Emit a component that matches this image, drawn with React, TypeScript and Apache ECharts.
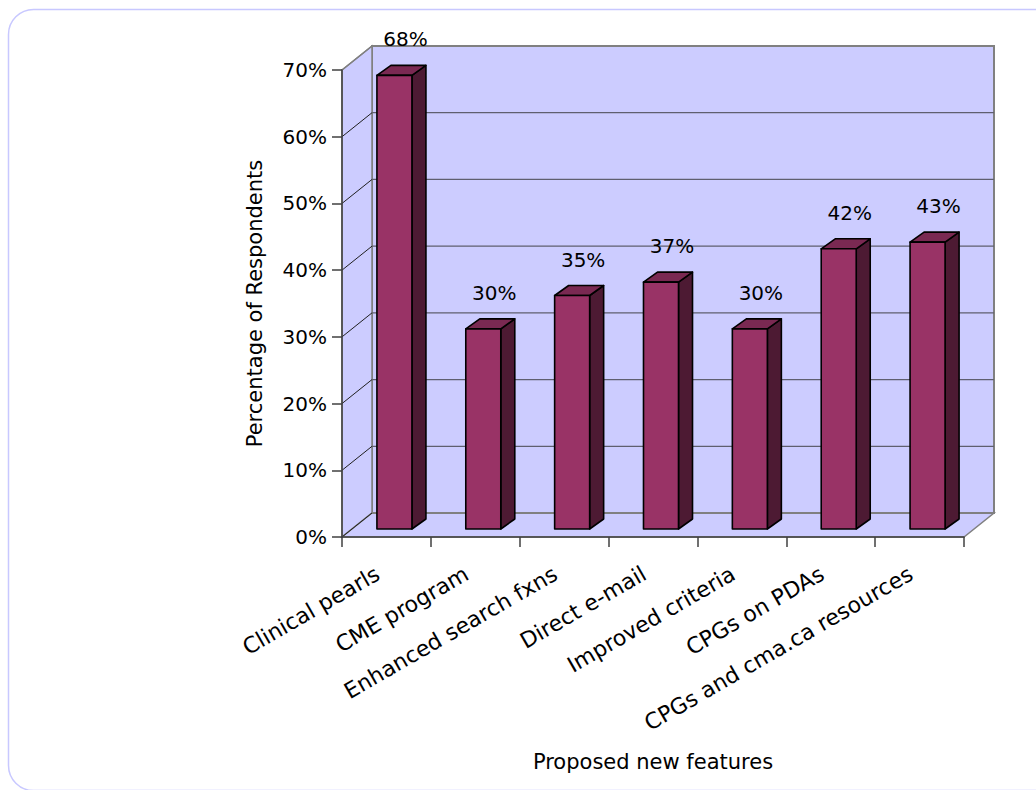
import React, { useEffect, useRef } from "react";
import * as echarts from "echarts";

const categories = [
  "Clinical pearls",
  "CME program",
  "Enhanced search fxns",
  "Direct e-mail",
  "Improved criteria",
  "CPGs on PDAs",
  "CPGs and cma.ca resources",
];
const values = [68, 30, 35, 37, 30, 42, 43];
const yTicks = [0, 10, 20, 30, 40, 50, 60, 70];
const yTitle = "Percentage of Respondents";
const xTitle = "Proposed new features";

const FONT = "'DejaVu Sans', sans-serif";
const WALL = "#ccccff";
const WALL_EDGE = "#808080";
const GRID_LINE = "#5f5f6f";
const BAR_FRONT = "#993366";
const BAR_TOP = "#7a2952";
const BAR_SIDE = "#4d1a33";
const DEPTH_X = 30;
const DEPTH_Y = -24;
const BAR_SHIFT_X = 8;
const BAR_SHIFT_Y = -8;
const BAR_DX = 14;
const BAR_DY = -10;

export default function App() {
  const ref = useRef<HTMLDivElement>(null);
  useEffect(() => {
    if (!ref.current) return;
    const chart = echarts.init(ref.current, undefined, { renderer: "svg" });

    const wallsRender = (params: any, api: any) => {
      const cs = params.coordSys;
      const x0 = cs.x, y0 = cs.y, w = cs.width, h = cs.height;
      const children: any[] = [];
      children.push({
        type: "rect",
        shape: { x: x0 + DEPTH_X, y: y0 + DEPTH_Y, width: w, height: h },
        style: { fill: WALL, stroke: WALL_EDGE, lineWidth: 2 },
      });
      children.push({
        type: "polygon",
        shape: {
          points: [
            [x0, y0],
            [x0 + DEPTH_X, y0 + DEPTH_Y],
            [x0 + DEPTH_X, y0 + h + DEPTH_Y],
            [x0, y0 + h],
          ],
        },
        style: { fill: WALL, stroke: WALL_EDGE, lineWidth: 1.5 },
      });
      children.push({
        type: "polygon",
        shape: {
          points: [
            [x0, y0 + h],
            [x0 + w, y0 + h],
            [x0 + w + DEPTH_X, y0 + h + DEPTH_Y],
            [x0 + DEPTH_X, y0 + h + DEPTH_Y],
          ],
        },
        style: { fill: WALL, stroke: WALL_EDGE, lineWidth: 1.5 },
      });
      yTicks.forEach((t) => {
        const yy = api.coord([0, t])[1];
        const edge = t === 0 || t === 70;
        children.push({
          type: "line",
          shape: { x1: x0 + DEPTH_X, y1: yy + DEPTH_Y, x2: x0 + w + DEPTH_X, y2: yy + DEPTH_Y },
          style: { stroke: edge ? WALL_EDGE : GRID_LINE, lineWidth: edge ? 2 : 1.2 },
        });
        children.push({
          type: "line",
          shape: { x1: x0, y1: yy, x2: x0 + DEPTH_X, y2: yy + DEPTH_Y },
          style: { stroke: t === 70 ? WALL_EDGE : "#202020", lineWidth: t === 70 ? 1.5 : 1 },
        });
      });
      return { type: "group", children };
    };

    const barsRender = (params: any, api: any) => {
      const i = api.value(0);
      const v = api.value(1);
      const top = api.coord([i, v]);
      const base = api.coord([i, 0]);
      const bw = api.size([1, 0])[0] * 0.394;
      const lx = top[0] + BAR_SHIFT_X - bw / 2;
      const rx = lx + bw;
      const ty = top[1] + BAR_SHIFT_Y;
      const by = base[1] + BAR_SHIFT_Y;
      const stroke = { stroke: "#000", lineWidth: 1.6, lineJoin: "round" };
      return {
        type: "group",
        children: [
          {
            type: "polygon",
            shape: { points: [[rx, ty], [rx + BAR_DX, ty + BAR_DY], [rx + BAR_DX, by + BAR_DY], [rx, by]] },
            style: { fill: BAR_SIDE, ...stroke },
          },
          {
            type: "polygon",
            shape: { points: [[lx, ty], [lx + BAR_DX, ty + BAR_DY], [rx + BAR_DX, ty + BAR_DY], [rx, ty]] },
            style: { fill: BAR_TOP, ...stroke },
          },
          {
            type: "rect",
            shape: { x: lx, y: ty, width: bw, height: by - ty },
            style: { fill: BAR_FRONT, ...stroke },
          },
          {
            type: "text",
            style: {
              text: v + "%",
              x: (lx + rx) / 2 + BAR_DX / 2 + 4,
              y: ty - 36,
              align: "center",
              verticalAlign: "middle",
              fill: "#000",
              font: "20px " + FONT,
            },
          },
        ],
      };
    };

    chart.setOption({
      animation: false,
      textStyle: { fontFamily: FONT },
      graphic: [
        {
          type: "rect",
          shape: { x: 8.5, y: 9.5, width: 1060, height: 781, r: 25 },
          style: { fill: "#fff", stroke: "#c8c8ff", lineWidth: 1.5 },
          z: -10,
          silent: true,
        },
      ],
      grid: { left: 342, right: 72, top: 70, bottom: 253, containLabel: false },
      xAxis: {
        type: "category",
        data: categories,
        z: 10,
        axisLine: { show: true, lineStyle: { color: "#404040", width: 1.5 } },
        axisTick: { show: true, length: 10, lineStyle: { color: "#404040", width: 1.5 } },
        axisLabel: {
          rotate: 30,
          interval: 0,
          margin: 30,
          padding: [0, 10, 0, 0],
          fontSize: 22,
          color: "#000",
          fontFamily: FONT,
        },
        name: xTitle,
        nameLocation: "middle",
        nameGap: 214,
        nameTextStyle: { fontSize: 21, color: "#000", fontFamily: FONT },
        splitLine: { show: false },
      },
      yAxis: {
        type: "value",
        min: 0,
        max: 70,
        interval: 10,
        z: 10,
        axisLine: { show: true, lineStyle: { color: "#404040", width: 1.5 } },
        axisTick: { show: true, length: 10, lineStyle: { color: "#404040", width: 1.5 } },
        axisLabel: { formatter: "{value}%", fontSize: 20, margin: 15, color: "#000", fontFamily: FONT },
        splitLine: { show: false },
        name: yTitle,
        nameLocation: "middle",
        nameGap: 77,
        nameRotate: 90,
        nameTextStyle: { fontSize: 21, color: "#000", fontFamily: FONT },
      },
      series: [
        {
          type: "custom",
          z: 1,
          silent: true,
          renderItem: wallsRender,
          data: [[0, 0]],
        },
        {
          type: "custom",
          z: 3,
          renderItem: barsRender,
          data: values.map((v, i) => [i, v]),
        },
      ],
    });
    return () => chart.dispose();
  }, []);
  return (
    <div
      ref={ref}
      style={{ position: "fixed", left: 0, top: 0, width: 1036, height: 790, background: "#fff" }}
    />
  );
}
